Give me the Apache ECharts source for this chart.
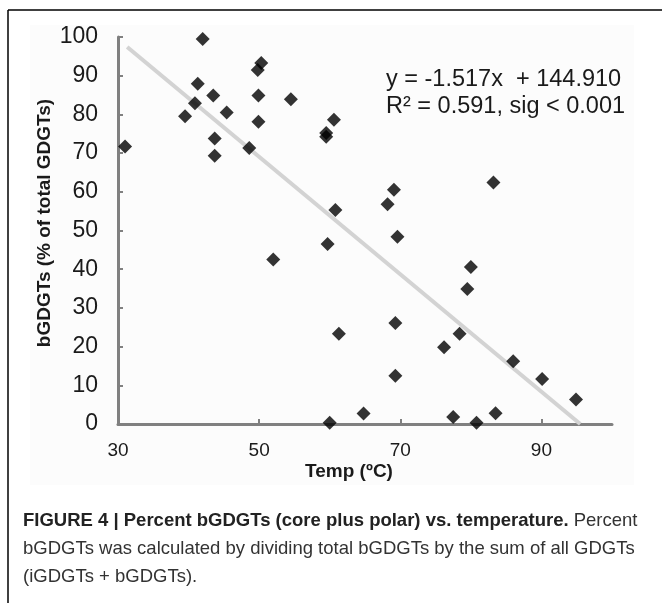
<!DOCTYPE html>
<html>
<head>
<meta charset="utf-8">
<style>
  html, body { margin: 0; padding: 0; background: #fff; }
  #main { width: 662px; height: 603px; }
</style>
</head>
<body>
<div id="main"></div>
<script src="https://cdn.jsdelivr.net/npm/echarts@6/dist/echarts.min.js"></script>
<script type="text/javascript">
// temperature (ºC) and percent bGDGTs
var temps = [42.0, 50.3, 49.8, 41.3, 43.5, 49.9, 40.9, 45.4, 39.5, 49.9,
             43.7, 31.0, 48.6, 43.7, 54.5, 60.6, 59.5, 59.5, 69.1, 68.2,
             60.8, 83.2, 52.0, 59.7, 69.6, 69.3, 61.3, 76.2, 69.3, 64.8,
             60.0, 77.5, 80.0, 79.5, 78.4, 86.0, 90.1, 94.9, 80.8, 83.5];
var pctB = [99.5, 93.3, 91.5, 87.9, 84.9, 84.9, 82.9, 80.5, 79.5, 78.1,
            73.8, 71.7, 71.3, 69.3, 83.9, 78.6, 75.2, 74.2, 60.5, 56.8,
            55.3, 62.4, 42.5, 46.5, 48.4, 26.1, 23.3, 19.8, 12.5, 2.7,
            0.3, 1.8, 40.6, 34.9, 23.3, 16.2, 11.6, 6.3, 0.3, 2.8];

// regression line end points
var trendX = [31.3, 95.5];
var trendY = [97.4, 0];

var xTickLabels = [30, 50, 70, 90];

var equationText = 'y = -1.517x  + 144.910\nR² = 0.591, sig < 0.001';

var font = 'Liberation Sans, Arial, sans-serif';

var myChart = echarts.init(document.getElementById('main'));

var option = {
    backgroundColor: '#fff',
    animation: false,
    grid: {
        left: 118,
        right: 50,
        top: 37,
        bottom: 179
    },
    xAxis: {
        type: 'value',
        min: 30,
        max: 100,
        interval: 20,
        splitLine: { show: false },
        axisLine: { lineStyle: { color: '#808080', width: 3 } },
        axisTick: {
            inside: true,
            length: 5,
            customValues: [50, 70, 90],
            lineStyle: { color: '#808080', width: 2 }
        },
        axisLabel: {
            customValues: xTickLabels,
            margin: 17,
            color: '#1a1a1a',
            fontSize: 19,
            fontFamily: font
        }
    },
    yAxis: {
        type: 'value',
        min: 0,
        max: 100,
        interval: 10,
        splitLine: { show: false },
        axisLine: { show: true, lineStyle: { color: '#808080', width: 3 } },
        axisTick: {
            show: true,
            inside: true,
            length: 5,
            lineStyle: { color: '#808080', width: 2 }
        },
        axisLabel: {
            margin: 20,
            color: '#1a1a1a',
            fontSize: 23,
            fontFamily: font
        }
    },
    graphic: [
        { type: 'rect', z: -10, shape: { x: 30, y: 25, width: 604, height: 460 },
          style: { fill: '#fcfcfc' } },
        { type: 'line', shape: { x1: 8, y1: 10, x2: 662, y2: 10 },
          style: { stroke: '#000', lineWidth: 1.5 } },
        { type: 'line', shape: { x1: 8, y1: 10, x2: 8, y2: 603 },
          style: { stroke: '#000', lineWidth: 1.5 } },
        {
            type: 'text', x: 45, y: 223, rotation: Math.PI / 2,
            style: {
                text: 'bGDGTs (% of total GDGTs)',
                font: 'bold 19px ' + font,
                fill: '#1a1a1a',
                align: 'center',
                verticalAlign: 'middle'
            }
        },
        {
            type: 'text', x: 349, y: 472,
            style: {
                text: 'Temp (ºC)',
                font: 'bold 19px ' + font,
                fill: '#1a1a1a',
                align: 'center',
                verticalAlign: 'middle'
            }
        },
        {
            type: 'text', x: 386, y: 66,
            style: {
                text: equationText,
                font: '23.5px ' + font,
                lineHeight: 27,
                fill: '#1a1a1a'
            }
        },
        {
            type: 'text', x: 23, y: 507,
            style: {
                text: '{b|FIGURE 4 | Percent bGDGTs (core plus polar) vs. temperature.} Percent\n' +
                      'bGDGTs was calculated by dividing total bGDGTs by the sum of all GDGTs\n' +
                      '(iGDGTs + bGDGTs).',
                font: '18.5px ' + font,
                lineHeight: 28,
                fill: '#333',
                rich: {
                    b: { fontWeight: 'bold', fontSize: 18.5, fontFamily: font, fill: '#222', lineHeight: 28 }
                }
            }
        }
    ],
    series: [
        {
            name: 'trend',
            type: 'line',
            z: 1,
            symbol: 'none',
            silent: true,
            lineStyle: { color: '#d3d3d3', width: 4 },
            data: trendX.map(function (x, i) { return [x, trendY[i]]; })
        },
        {
            name: 'bGDGTs',
            type: 'scatter',
            z: 3,
            clip: false,
            symbol: 'diamond',
            symbolSize: 14,
            itemStyle: { color: '#000' },
            data: temps.map(function (t, i) { return [t, pctB[i]]; })
        }
    ]
};

myChart.setOption(option);
</script>
</body>
</html>
